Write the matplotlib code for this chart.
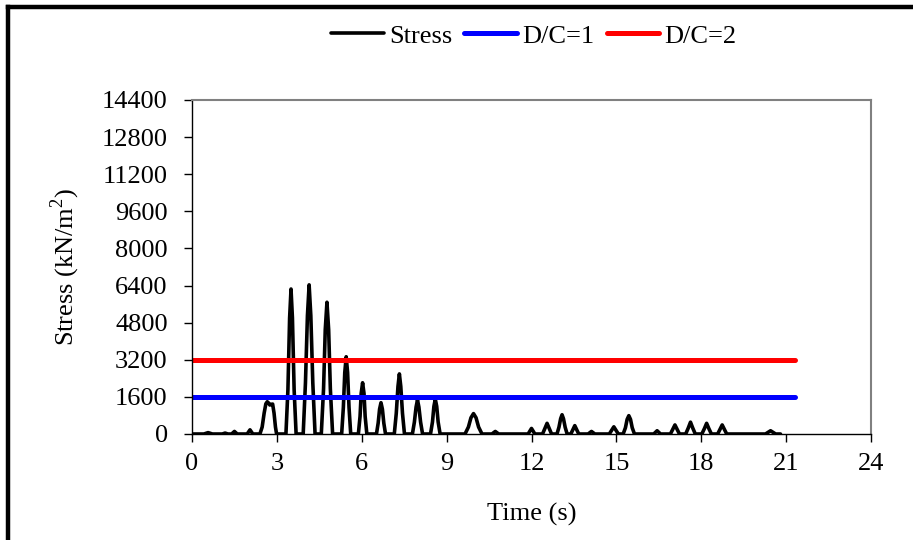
import matplotlib
matplotlib.use("Agg")
from matplotlib import pyplot as plt
from matplotlib.lines import Line2D

plt.rcParams['font.family'] = ['Liberation Serif', 'DejaVu Serif']
plt.rcParams['mathtext.fontset'] = 'custom'
plt.rcParams['mathtext.rm'] = 'Liberation Serif'

# stress history (s, kN/m2)
time_s = [
    0.00, 0.42, 0.57, 0.72, 1.07, 1.17, 1.27, 1.40, 1.50, 1.60, 1.95, 2.05, 2.15,
    2.40, 2.48, 2.55, 2.61, 2.66, 2.71, 2.75, 2.80, 2.85, 2.90, 2.95, 2.99,
    3.32, 3.39, 3.45, 3.50, 3.55, 3.61, 3.68,
    3.93, 4.01, 4.08, 4.14, 4.20, 4.27, 4.35,
    4.57, 4.65, 4.71, 4.77, 4.83, 4.89, 4.97,
    5.29, 5.35, 5.40, 5.45, 5.50, 5.55, 5.61,
    5.88, 5.94, 5.98, 6.03, 6.08, 6.12, 6.18,
    6.52, 6.58, 6.63, 6.68, 6.73, 6.78, 6.84,
    7.15, 7.22, 7.28, 7.33, 7.38, 7.44, 7.51,
    7.79, 7.86, 7.92, 7.97, 8.02, 8.08, 8.15,
    8.43, 8.50, 8.55, 8.60, 8.65, 8.70, 8.77,
    9.65, 9.77, 9.86, 9.95, 10.04, 10.13, 10.25,
    10.60, 10.72, 10.84,
    11.88, 11.94, 12.00, 12.06, 12.12,
    12.39, 12.47, 12.55, 12.63, 12.71,
    12.90, 12.97, 13.03, 13.08, 13.13, 13.19, 13.26,
    13.39, 13.46, 13.53, 13.60, 13.67,
    14.00, 14.12, 14.24,
    14.75, 14.83, 14.91, 14.99, 15.07,
    15.24, 15.32, 15.38, 15.44, 15.50, 15.56, 15.64,
    16.32, 16.44, 16.56,
    16.91, 16.99, 17.07, 17.15, 17.23,
    17.45, 17.54, 17.62, 17.70, 17.79,
    18.02, 18.11, 18.19, 18.27, 18.36,
    18.58, 18.66, 18.74, 18.82, 18.90,
    20.27, 20.45, 20.63, 20.80,
]
stress = [
    0, 0, 60, 0, 0, 40, 0, 0, 110, 0, 0, 180, 0,
    0, 300, 900, 1300, 1390, 1330, 1250, 1280, 1290, 900, 300, 0,
    0, 1900, 5000, 6250, 5000, 1900, 0,
    0, 2200, 5100, 6430, 5100, 2200, 0,
    0, 1950, 4500, 5680, 4500, 1950, 0,
    0, 1150, 2650, 3330, 2650, 1150, 0,
    0, 760, 1750, 2210, 1750, 760, 0,
    0, 470, 1070, 1350, 1070, 470, 0,
    0, 890, 2050, 2590, 2050, 890, 0,
    0, 510, 1160, 1470, 1160, 510, 0,
    0, 520, 1190, 1500, 1190, 520, 0,
    0, 300, 700, 880, 700, 300, 0,
    0, 110, 0,
    0, 120, 240, 120, 0,
    0, 230, 460, 230, 0,
    0, 290, 660, 830, 660, 290, 0,
    0, 180, 360, 180, 0,
    0, 110, 0,
    0, 155, 310, 155, 0,
    0, 270, 630, 790, 630, 270, 0,
    0, 140, 0,
    0, 195, 390, 195, 0,
    0, 255, 510, 255, 0,
    0, 230, 460, 230, 0,
    0, 195, 390, 195, 0,
    0, 140, 0, 0,
]

# capacity levels
dc_time = [0, 21.3]
dc1 = [1600, 1600]
dc2 = [3200, 3200]

x_ticks = [0, 3, 6, 9, 12, 15, 18, 21, 24]
y_ticks = [0, 1600, 3200, 4800, 6400, 8000, 9600, 11200, 12800, 14400]

fig = plt.figure(figsize=(9.13, 5.4), dpi=100)
ax = fig.add_axes([192 / 913, 1 - 434 / 540, 679 / 913, 334 / 540])

ax.plot(time_s, stress, color='black', lw=2.6, label='Stress',
        solid_joinstyle='round', solid_capstyle='round')
ax.plot(dc_time, dc1, color='#0000ff', lw=3.6, label='D/C=1', solid_capstyle='round')
ax.plot(dc_time, dc2, color='#ff0000', lw=3.6, label='D/C=2', solid_capstyle='round')

ax.set_xlim(0, 24)
ax.set_ylim(0, 14400)
ax.set_xticks(x_ticks)
ax.set_yticks(y_ticks)
ax.tick_params(axis='both', direction='out', length=5.5, width=1, labelsize=19, color='black')
ax.tick_params(axis='y', pad=12)
ax.tick_params(axis='x', pad=8)

for side in ['top', 'right']:
    ax.spines[side].set_color('#808080')
    ax.spines[side].set_linewidth(1.5)
for side in ['left', 'bottom']:
    ax.spines[side].set_color('black')
    ax.spines[side].set_linewidth(1.0)

ax.set_xlabel('Time (s)', fontsize=19)
ax.set_ylabel('Stress (kN/m$^2$)', fontsize=19)
ax.xaxis.label.set_va('center')
ax.yaxis.label.set_va('center')
ax.xaxis.set_label_coords(0.5, -80 / 334)
ax.yaxis.set_label_coords(-127 / 679, 0.5)

fig.legend(loc='center', bbox_to_anchor=(534 / 913, 1 - 36 / 540), ncol=3, frameon=False,
           fontsize=19, handlelength=2.0, handletextpad=0.2, columnspacing=0.45,
           borderpad=0, borderaxespad=0)

# outer frame (left and top edges)
fig.add_artist(Line2D([7.5 / 913, 7.5 / 913], [0, 1 - 6.5 / 540], color='black', lw=3.2,
                      transform=fig.transFigure))
fig.add_artist(Line2D([7.5 / 913, 1], [1 - 6.5 / 540, 1 - 6.5 / 540], color='black', lw=3.2,
                      transform=fig.transFigure))

fig.savefig('out.png', dpi=100)
